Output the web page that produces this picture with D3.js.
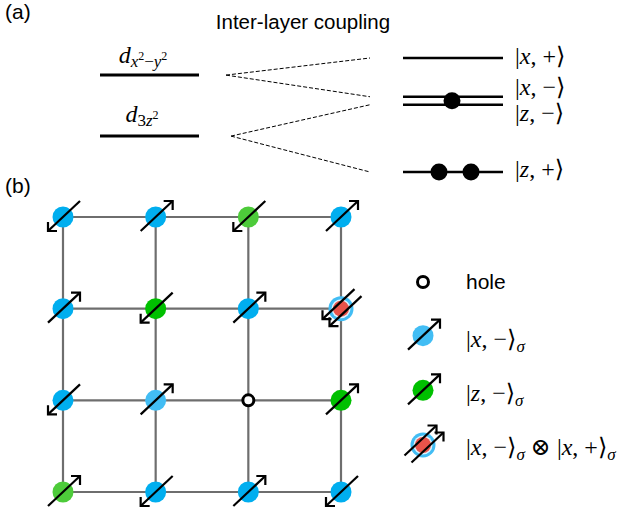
<!DOCTYPE html>
<html>
<head>
<meta charset="utf-8">
<script src="https://cdn.jsdelivr.net/npm/d3@7"></script>
<style>
  html, body { margin: 0; padding: 0; background: #fff; }
  svg { display: block; }
</style>
</head>
<body>
<svg id="fig" width="626" height="512"></svg>
<script>
// ---- (a) energy levels ----------------------------------------------
// single-layer orbitals (left) and bonding/antibonding combinations (right)
const orbitalNames = ["dx2y2", "d3z2"];
const orbitalEnergies = [0.70, -0.37];
const stateNames = ["xPlus", "xMinus", "zMinus", "zPlus"];
const stateEnergies = [1.0, 0.32, 0.18, -1.0];
const stateElectrons = [0, 1, 0, 2];
// which orbital each combined state comes from
const stateParents = ["dx2y2", "dx2y2", "d3z2", "d3z2"];

// ---- (b) lattice ------------------------------------------------------
// kind: B blue |x,->, b light blue |x,->, G green |z,->, g light green |z,->,
//       H hole, D doubly occupied |x,-> (x) |x,+>
const siteKinds = [
  ["B", "B", "g", "B"],
  ["B", "G", "B", "D"],
  ["B", "b", "H", "G"],
  ["g", "B", "B", "B"]
];
// spin: +1 up, -1 down, 0 none
const siteSpins = [
  [-1, 1, -1, 1],
  [1, -1, 1, -1],
  [-1, 1, 0, 1],
  [1, -1, 1, -1]
];
const legendKinds = ["H", "b", "G", "D"];

const kindColor = {
  B: "#00aeef", b: "#42bdf4", G: "#00c000", g: "#4dcb3a", red: "#e8534a"
};

const svg = d3.select("#fig");
const sans = "'Liberation Sans', Arial, sans-serif";
const serif = "'Liberation Serif', 'DejaVu Serif', serif";

// panel letters and title
svg.append("text").attr("x", 5).attr("y", 19).attr("font-family", sans)
  .attr("font-size", 21).text("(a)");
svg.append("text").attr("x", 5).attr("y", 193).attr("font-family", sans)
  .attr("font-size", 21).text("(b)");
svg.append("text").attr("x", 303).attr("y", 29).attr("text-anchor", "middle")
  .attr("font-family", sans).attr("font-size", 20.5).text("Inter-layer coupling");

// energy scale
const yE = d3.scaleLinear().domain([1, -1]).range([58, 172]);
const leftX = [100, 199], rightX = [403, 503];
const apexX = { dx2y2: 226, d3z2: 231 };
const dashEnd = 370;

const gA = svg.append("g");
const orbitals = orbitalNames.map((n, i) => ({ name: n, e: orbitalEnergies[i] }));
const states = stateNames.map((n, i) => ({
  name: n, e: stateEnergies[i], n: stateElectrons[i], parent: stateParents[i]
}));

gA.selectAll("line.orb").data(orbitals).join("line")
  .attr("x1", leftX[0]).attr("x2", leftX[1])
  .attr("y1", d => yE(d.e)).attr("y2", d => yE(d.e))
  .attr("stroke", "#000").attr("stroke-width", 3);

gA.selectAll("line.st").data(states).join("line")
  .attr("x1", rightX[0]).attr("x2", rightX[1])
  .attr("y1", d => yE(d.e)).attr("y2", d => yE(d.e))
  .attr("stroke", "#000").attr("stroke-width", 2.3);

const eOf = Object.fromEntries(orbitals.map(o => [o.name, o.e]));
gA.selectAll("line.dash").data(states).join("line")
  .attr("x1", d => apexX[d.parent]).attr("y1", d => yE(eOf[d.parent]))
  .attr("x2", dashEnd).attr("y2", d => yE(d.e))
  .attr("stroke", "#000").attr("stroke-width", 1)
  .attr("stroke-dasharray", "4,2");

// electrons on the combined levels
const dots = [];
states.forEach(s => {
  const mid = (rightX[0] + rightX[1]) / 2;
  if (s.n === 1) dots.push({ x: mid - 1, y: yE(s.e) + 4 });
  if (s.n === 2) { dots.push({ x: mid - 14, y: yE(s.e) }); dots.push({ x: mid + 18, y: yE(s.e) }); }
});
gA.selectAll("circle.e").data(dots).join("circle")
  .attr("cx", d => d.x).attr("cy", d => d.y).attr("r", 8.5).attr("fill", "#000");

// math labels built from tspans
function mathLabel(g, x, y, parts, anchor) {
  const t = g.append("text").attr("x", x).attr("y", y)
    .attr("font-family", serif).attr("font-size", 24)
    .attr("text-anchor", anchor || "start");
  parts.forEach(p => {
    const s = t.append("tspan").text(p.t);
    if (p.i) s.attr("font-style", "italic");
    if (p.fs) s.attr("font-size", p.fs);
    if (p.dy) s.attr("dy", p.dy);
  });
  return t;
}
mathLabel(gA, 143, 63, [
  { t: "d", i: 1 }, { t: "x", i: 1, fs: 17, dy: 4 }, { t: "2", fs: 12, dy: -7 },
  { t: "\u2212", fs: 17, dy: 7 }, { t: "y", i: 1, fs: 17 }, { t: "2", fs: 12, dy: -7 }
], "middle");
mathLabel(gA, 142, 122, [
  { t: "d", i: 1 }, { t: "3", fs: 17, dy: 4 }, { t: "z", i: 1, fs: 17 }, { t: "2", fs: 12, dy: -7 }
], "middle");

const stateLabel = {
  xPlus: [["x", "+"], 64], xMinus: [["x", "\u2212"], 95],
  zMinus: [["z", "\u2212"], 121], zPlus: [["z", "+"], 177]
};
states.forEach(s => {
  const [[v, sg], by] = stateLabel[s.name];
  mathLabel(gA, 515, by, [{ t: "|" }, { t: v, i: 1 }, { t: ", " + sg + "\u27E9" }]);
});

// ---- (b) lattice ------------------------------------------------------
const col = d3.scaleLinear().domain([0, 3]).range([63, 341]);
const row = d3.scaleLinear().domain([0, 3]).range([217, 492]);
const gB = svg.append("g");
const idx = d3.range(4);

gB.selectAll("line.h").data(idx).join("line")
  .attr("x1", col(0)).attr("x2", col(3)).attr("y1", d => row(d)).attr("y2", d => row(d))
  .attr("stroke", "#6e6e6e").attr("stroke-width", 2.2);
gB.selectAll("line.v").data(idx).join("line")
  .attr("y1", row(0)).attr("y2", row(3)).attr("x1", d => col(d)).attr("x2", d => col(d))
  .attr("stroke", "#6e6e6e").attr("stroke-width", 2.2);

function arrow(g, cx, cy, spin, off) {
  const a = [cx - 15 + off, cy + 14 + off], b = [cx + 17 + off, cy - 16 + off];
  g.append("line").attr("x1", a[0]).attr("y1", a[1]).attr("x2", b[0]).attr("y2", b[1])
    .attr("stroke", "#000").attr("stroke-width", 2.2);
  const head = spin > 0
    ? [[b[0] - 9, b[1]], b, [b[0], b[1] + 9]]
    : [[a[0] + 9, a[1]], a, [a[0], a[1] - 9]];
  g.append("path").attr("d", d3.line()(head)).attr("fill", "none")
    .attr("stroke", "#000").attr("stroke-width", 2.2).attr("stroke-linejoin", "miter");
}

function site(g, cx, cy, kind, spin) {
  if (kind === "H") {
    g.append("circle").attr("cx", cx).attr("cy", cy).attr("r", 5.5)
      .attr("fill", "#fff").attr("stroke", "#000").attr("stroke-width", 3);
    return;
  }
  if (kind === "D") {
    g.append("circle").attr("cx", cx).attr("cy", cy).attr("r", 12.5).attr("fill", kindColor.b);
    g.append("circle").attr("cx", cx).attr("cy", cy).attr("r", 9.5).attr("fill", "#dff3fc");
    g.append("circle").attr("cx", cx).attr("cy", cy).attr("r", 8).attr("fill", kindColor.red);
    arrow(g, cx, cy, spin, -3.5);
    arrow(g, cx, cy, spin, 3.5);
    return;
  }
  g.append("circle").attr("cx", cx).attr("cy", cy).attr("r", 10.5).attr("fill", kindColor[kind]);
  arrow(g, cx, cy, spin, 0);
}

siteKinds.forEach((r, i) => r.forEach((k, j) => site(gB, col(j), row(i), k, siteSpins[i][j])));

// ---- legend -----------------------------------------------------------
const legY = d3.scalePoint().domain(legendKinds).range([282, 446]);
const gL = svg.append("g");
legendKinds.forEach(k => site(gL, 423, legY(k) + (k === "H" ? 0 : -1), k, 1));

gL.append("text").attr("x", 466).attr("y", legY("H") + 7).attr("font-family", sans)
  .attr("font-size", 21).text("hole");
function ketSigma(v, sg) {
  return [{ t: "|" }, { t: v, i: 1 }, { t: ", " + sg + "\u27E9" },
          { t: "\u03C3", i: 1, fs: 17, dy: 5 }];
}
mathLabel(gL, 466, legY("b") + 10, ketSigma("x", "\u2212"));
mathLabel(gL, 466, legY("G") + 10, ketSigma("z", "\u2212"));
mathLabel(gL, 466, legY("D") + 9, ketSigma("x", "\u2212")
  .concat([{ t: " \u2297 ", dy: -5 }], ketSigma("x", "+")));
</script>
</body>
</html>
